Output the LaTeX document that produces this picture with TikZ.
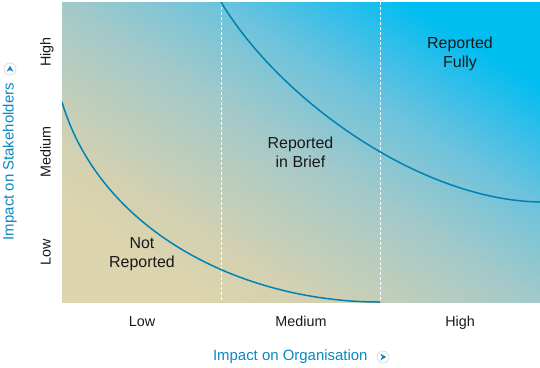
\documentclass[tikz,border=0pt]{standalone}
\usepackage{fontspec}
\setmainfont{Liberation Sans}
\usetikzlibrary{calc}
\definecolor{tanlow}{HTML}{DDD5AE}
\definecolor{tanmid}{HTML}{D3D1B1}
\definecolor{greymid}{HTML}{A2C9C9}
\definecolor{bluemid}{HTML}{6EC3DC}
\definecolor{bluehigh}{HTML}{45BFE6}
\definecolor{cyanhigh}{HTML}{00BEF0}
\definecolor{curveblue}{HTML}{0083B4}
\definecolor{titleblue}{HTML}{0A88BE}
% the path is fitted to the 25bp--75bp part of a shading
\pgfdeclareverticalshading{matrixshade}{100bp}{color(0bp)=(tanlow); color(25bp)=(tanlow);
    color(33.5bp)=(tanmid); color(50bp)=(greymid); color(61bp)=(bluemid);
    color(66.5bp)=(bluehigh); color(75bp)=(cyanhigh); color(100bp)=(cyanhigh)}

\begin{document}
\begin{tikzpicture}[
        x=1bp, y=-1bp, % 1 unit = 1 pixel of the reference, y downwards
        % --- Styles ---
        region/.style={align=center, font=\fontsize{16}{19}\selectfont, text=black!90},
        tick/.style={font=\fontsize{14.4}{17}\selectfont, text=black!90, anchor=base},
        axistitle/.style={font=\fontsize{15}{18}\selectfont, text=titleblue},
        boundary/.style={curveblue, line width=1.5bp},
        divider/.style={white, line width=0.7bp, dash pattern=on 3bp off 2bp},
        icon/.style={circle, draw=black!13, line width=0.8bp, fill=white, minimum size=12bp, inner sep=0pt},
    ]
        \useasboundingbox (0,0) rectangle (540,367);

        % --- 1. Shaded matrix area ---
        \coordinate (lowleft) at (62,302);
        \coordinate (topright) at (540,2);
        \shade[shading=matrixshade, shading angle=-32] (lowleft) rectangle (topright);

        % --- 2. Column dividers ---
        \foreach \x in {221.5, 380.5} {
            \draw[divider] (\x,2) -- (\x,302);
        }

        % --- 3. Reporting boundaries ---
        \begin{scope}
            \clip (lowleft) rectangle (topright);
            \draw[boundary] (62,102) .. controls (100,230) and (240,302) .. (380,302);
            \draw[boundary] (221,2) .. controls (280,100) and (420,200) .. (540,202);
        \end{scope}

        % --- 4. Region labels ---
        \node[region] (notrep) at (142,253.9) {Not\\Reported};
        \node[region] (brief) at (300.5,152.2) {Reported\\in Brief};
        \node[region] (fully) at (460,54.2) {Reported\\Fully};

        % --- 5. Axis ticks ---
        \foreach \lab/\y in {High/52, Medium/152, Low/252} {
            \node[tick, rotate=90] (stake\lab) at (50.5,\y) {\lab};
        }
        \foreach \lab/\x in {Low/142, Medium/301, High/460} {
            \node[tick] (org\lab) at (\x,326) {\lab};
        }

        % --- 6. Axis titles with arrow icons ---
        \node[axistitle, rotate=90] (stakeholders) at (9.7,161.7) {Impact on Stakeholders};
        \node[axistitle, anchor=base] (organisation) at (290.3,360.5) {Impact on Organisation};

        \node[icon] (upicon) at (10,69) {};
        \fill[titleblue] ([shift={(-3.4,2.6)}]upicon.center) -- ([shift={(0,-3.2)}]upicon.center)
            -- ([shift={(3.4,2.6)}]upicon.center) -- ([shift={(0,1)}]upicon.center) -- cycle;

        \node[icon] (righticon) at (383,357) {};
        \fill[titleblue] ([shift={(-2.6,-3.4)}]righticon.center) -- ([shift={(3.2,0)}]righticon.center)
            -- ([shift={(-2.6,3.4)}]righticon.center) -- ([shift={(-1,0)}]righticon.center) -- cycle;

    \end{tikzpicture}
\end{document}
